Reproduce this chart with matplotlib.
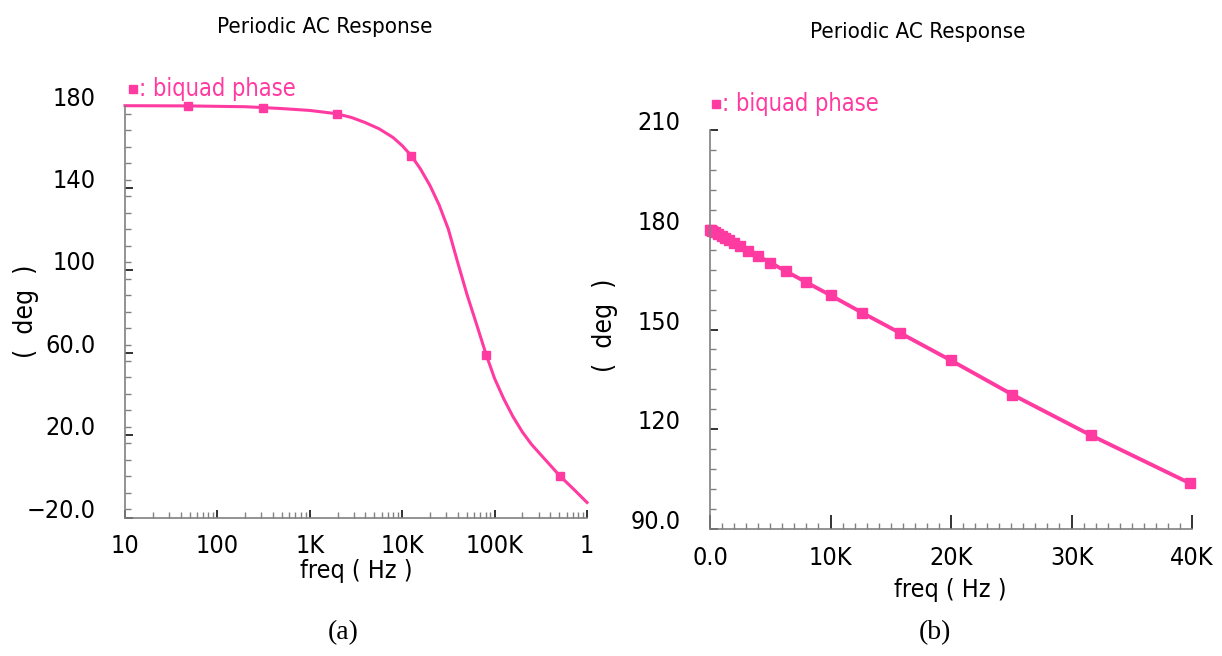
import matplotlib
matplotlib.use("Agg")
import matplotlib.pyplot as plt
from matplotlib.ticker import FixedLocator, MultipleLocator, LogLocator, NullFormatter

# (a) phase over a log frequency sweep
freq_a = [10, 48, 200, 309, 500, 1000, 1950, 2820, 3980, 5620, 7940, 10000,
          12600, 15800, 20000, 25100, 31600, 39800, 50100, 63100, 81300,
          100000, 126000, 158000, 200000, 251000, 316000, 398000, 513000,
          708000, 1000000]
phase_a = [180.0, 179.9, 179.5, 179.1, 178.6, 177.7, 176.1, 174.3, 171.8,
           168.8, 164.6, 160.6, 155.6, 149.2, 141.2, 131.8, 120.0, 104.0,
           88.5, 74.5, 58.9, 47.5, 37.5, 29.0, 21.5, 15.5, 10.5, 5.5, 0.0,
           -6.0, -12.7]
marks_a = [48, 309, 1950, 12600, 81300, 513000]
marks_a_phase = [179.9, 179.1, 176.1, 155.6, 58.9, 0.0]
xticks_a = [10, 100, 1e3, 1e4, 1e5, 1e6]
xlabels_a = ["10", "100", "1K", "10K", "100K", "1"]
yticks_a = [-20, 20, 60, 100, 140, 180]
ylabels_a = ["\u221220.0", "20.0", "60.0", "100", "140", "180"]

# (b) same phase on a linear axis, 0 to 40 kHz
freq_b = [10, 100, 200, 400, 630, 1000, 1260, 1580, 2000, 2510, 3160, 3980,
          5010, 6310, 7940, 10000, 12600, 15800, 20000, 25100, 31600, 39800]
phase_b = [180.0, 179.8, 179.6, 179.2, 178.8, 178.0, 177.5, 176.9, 176.0,
           175.0, 173.7, 172.1, 170.1, 167.5, 164.3, 160.3, 155.1, 148.9,
           140.7, 130.4, 118.2, 103.8]
xticks_b = [0, 10000, 20000, 30000, 40000]
xlabels_b = ["0.0", "10K", "20K", "30K", "40K"]
yticks_b = [90, 120, 150, 180, 210]
ylabels_b = ["90.0", "120", "150", "180", "210"]

PINK = "#ff3aa0"
GRAY = "#808080"
plt.rcParams["font.family"] = ["DejaVu Sans"]
plt.rcParams["font.stretch"] = "condensed"

fig = plt.figure(figsize=(12.22, 6.56), dpi=100)
W, H = 1222, 656


def place(x0, y0, x1, y1):
    return fig.add_axes([x0 / W, 1 - y1 / H, (x1 - x0) / W, (y1 - y0) / H])


def style(ax):
    for s in ("top", "right"):
        ax.spines[s].set_visible(False)
    for s in ("left", "bottom"):
        ax.spines[s].set_color(GRAY)
        ax.spines[s].set_linewidth(1.2)
    ax.tick_params(which="both", direction="in", colors=GRAY, labelcolor="black",
                   labelsize=18)
    ax.tick_params(which="major", length=6, width=1.3, color="#222222")
    ax.tick_params(which="minor", length=4, width=1.0)
    ax.tick_params(axis="y", pad=21)
    ax.tick_params(axis="x", pad=12)
    for lbl in ax.get_yticklabels():
        lbl.set_verticalalignment("baseline")


def legend(ax, x, y):
    ax.plot([x], [y], "s", color=PINK, ms=6, transform=ax.transAxes, clip_on=False)
    ax.text(x + 0.013, y, ": biquad phase", color=PINK, fontsize=17,
            transform=ax.transAxes, va="center", ha="left")


def to_axes(ax, px, py):
    # figure pixel -> axes fraction, for label placement
    inv = ax.transAxes.inverted()
    return inv.transform(fig.transFigure.transform((px / W, 1 - py / H)))


def place_labels(ax, xpos, ypos):
    ax.xaxis.set_label_coords(*to_axes(ax, *xpos))
    ax.yaxis.set_label_coords(*to_axes(ax, *ypos))
    ax.xaxis.label.set_verticalalignment("center")
    ax.yaxis.label.set_verticalalignment("center")
    ax.yaxis.label.set_horizontalalignment("center")


# panel (a)
ax1 = place(125, 105.7, 587, 517.5)
ax1.semilogx(freq_a, phase_a, color=PINK, lw=2.2, clip_on=False)
ax1.plot(marks_a, marks_a_phase, "s", color=PINK, ms=6, clip_on=False)
ax1.set_xlim(10, 1e6)
ax1.set_ylim(-20, 180)
ax1.xaxis.set_major_locator(FixedLocator(xticks_a))
ax1.xaxis.set_minor_locator(LogLocator(base=10, subs=range(2, 10)))
ax1.xaxis.set_minor_formatter(NullFormatter())
ax1.set_xticklabels(xlabels_a)
ax1.set_yticks(yticks_a)
ax1.set_yticklabels(ylabels_a)
ax1.yaxis.set_minor_locator(MultipleLocator(8))
style(ax1)
ax1.set_xlabel("freq ( Hz )", fontsize=18)
ax1.set_ylabel("(  deg  )", fontsize=19)
place_labels(ax1, (356, 571), (26, 311))
legend(ax1, 0.018, 1.04)

# panel (b)
ax2 = place(710, 130, 1192, 529)
ax2.plot(freq_b, phase_b, color=PINK, lw=2.8, marker="s", ms=6.5, clip_on=False)
ax2.set_xlim(0, 40000)
ax2.set_ylim(90, 210)
ax2.set_xticks(xticks_b)
ax2.set_xticklabels(xlabels_b)
ax2.xaxis.set_minor_locator(MultipleLocator(1000))
ax2.set_yticks(yticks_b)
ax2.set_yticklabels(ylabels_b)
ax2.yaxis.set_minor_locator(MultipleLocator(6))
style(ax2)
ax2.tick_params(axis="x", which="major", length=10)
ax2.set_xlabel("freq ( Hz )", fontsize=18)
ax2.set_ylabel("(  deg  )", fontsize=19)
place_labels(ax2, (950, 590), (605, 325))
legend(ax2, 0.012, 1.065)

fig.text(325 / W, 1 - 27 / H, "Periodic AC Response", fontsize=16,
         ha="center", va="center")
fig.text(918 / W, 1 - 32 / H, "Periodic AC Response", fontsize=16,
         ha="center", va="center")
fig.text(343 / W, 1 - 633 / H, "(a)", family="Liberation Serif", fontsize=20,
         ha="center", va="center")
fig.text(935 / W, 1 - 633 / H, "(b)", family="Liberation Serif", fontsize=20,
         ha="center", va="center")

fig.savefig("out.png", dpi=100)
